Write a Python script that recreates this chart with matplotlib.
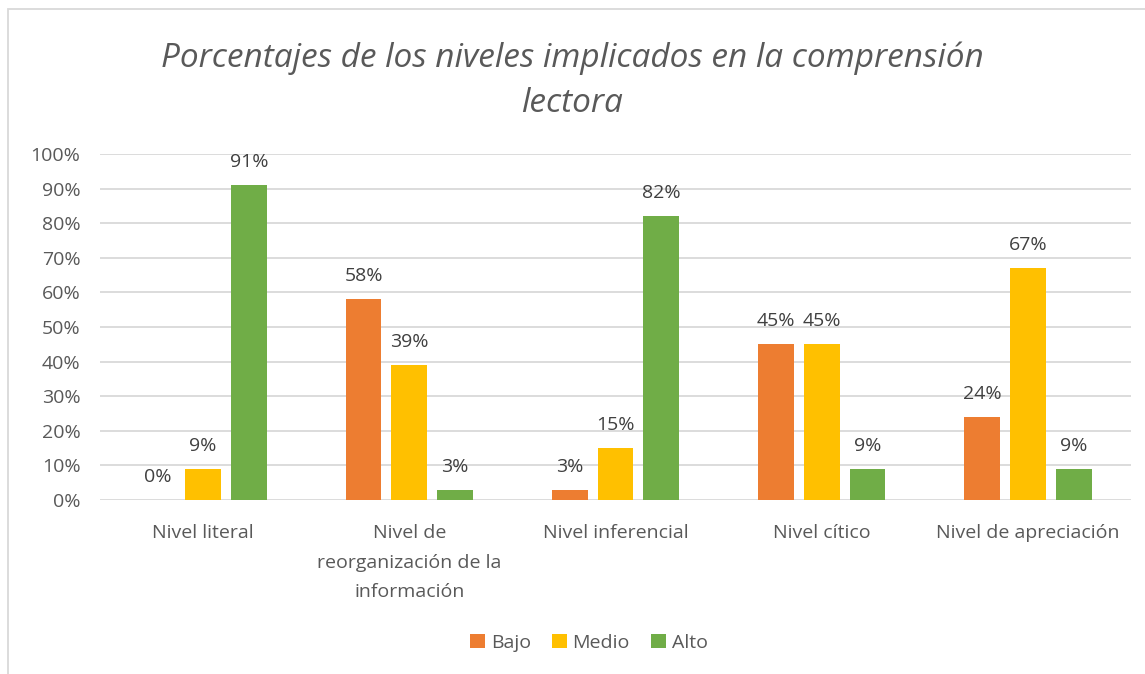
import numpy as np
import matplotlib
matplotlib.use("Agg")
import matplotlib.pyplot as plt
from matplotlib.patches import Rectangle
from matplotlib.ticker import FuncFormatter

plt.rcParams['font.family'] = ['Open Sans', 'DejaVu Sans']

categorias = ["Nivel literal", "Nivel de\nreorganización de la\ninformación",
              "Nivel inferencial", "Nivel cítico", "Nivel de apreciación"]
series = ["Bajo", "Medio", "Alto"]
bajo = [0, 58, 3, 45, 24]
medio = [9, 39, 15, 45, 67]
alto = [91, 3, 82, 9, 9]
colores = ["#ED7D31", "#FFC000", "#70AD47"]
gris = "#595959"

fig = plt.figure(figsize=(11.45, 6.74), dpi=100)
ax = fig.add_axes([100 / 1145, 174 / 674, 1031 / 1145, 346 / 674])

x = np.arange(len(categorias))
ancho = 0.174
paso = 0.222
for i, (nombre, vals) in enumerate(zip(series, [bajo, medio, alto])):
    pos = x + (i - 1) * paso
    ax.bar(pos, vals, width=ancho, color=colores[i], label=nombre, zorder=3)
    for px, v in zip(pos, vals):
        ax.annotate(f"{v}%", (px, v), xytext=(0, 10), textcoords="offset points",
                    ha="center", va="bottom", fontsize=14, color="#404040")

ax.set_xlim(-0.5, len(categorias) - 0.5)
ax.set_ylim(0, 100)
ax.set_yticks(np.arange(0, 101, 10))
ax.yaxis.set_major_formatter(FuncFormatter(lambda v, p: f"{int(v)}%"))
ax.grid(axis="y", color="#D9D9D9", linewidth=1.3, zorder=0)
for s in ax.spines.values():
    s.set_visible(False)
ax.tick_params(axis="both", length=0, labelsize=14, colors=gris)
ax.tick_params(axis="y", pad=14)
ax.tick_params(axis="x", pad=17)
ax.set_xticks(x)
ax.set_xticklabels(categorias, linespacing=1.85)

fig.text(0.5, 1 - 58 / 674, "Porcentajes de los niveles implicados en la comprensión",
         ha="center", va="center", fontsize=24, style="italic", color=gris)
fig.text(0.5, 1 - 104 / 674, "lectora",
         ha="center", va="center", fontsize=24, style="italic", color=gris)

fig.legend(loc="center", bbox_to_anchor=(589 / 1145, 1 - 643 / 674), ncol=3,
           frameon=False, fontsize=14, labelcolor=gris, handlelength=0.75,
           handleheight=0.75, handletextpad=0.3, columnspacing=1.1)

fig.add_artist(Rectangle((8 / 1145, -0.05), 1.1, 1 - 9 / 674 + 0.05,
                         transform=fig.transFigure, fill=False,
                         edgecolor="#D9D9D9", linewidth=1.3, clip_on=False))

fig.savefig("out.png", dpi=100)
